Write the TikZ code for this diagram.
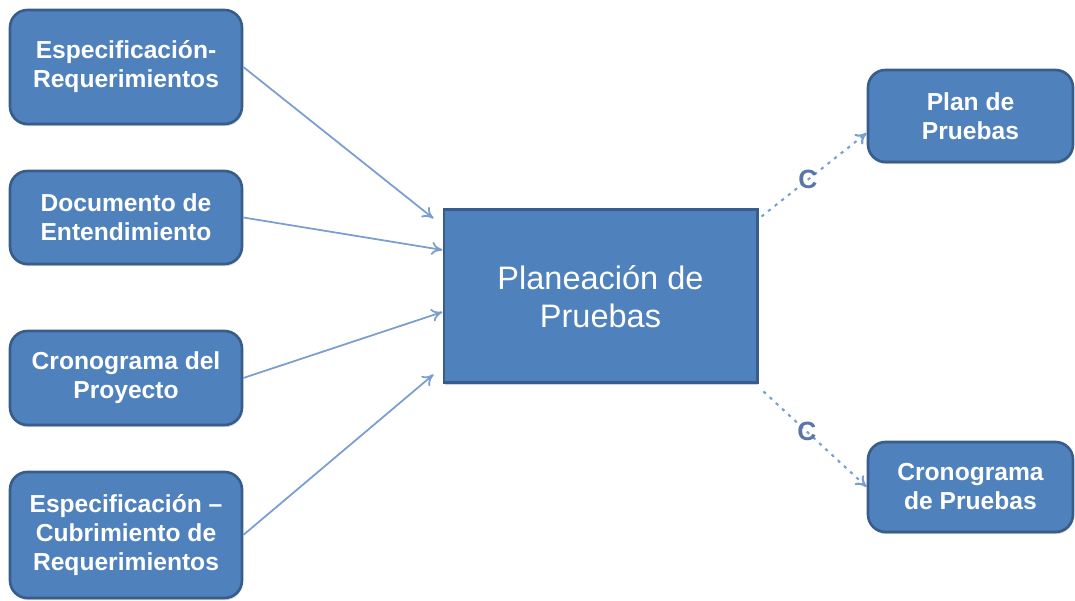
\documentclass[tikz,border=0pt]{standalone}
\usepackage{fontspec}
\setmainfont{Liberation Sans}
\usetikzlibrary{arrows.meta,shadows}
\definecolor{cajaazul}{RGB}{79,129,189}
\definecolor{bordeazul}{RGB}{56,93,138}
\definecolor{flechaazul}{RGB}{122,158,208}
\definecolor{letraC}{RGB}{88,118,168}
\begin{document}
\begin{tikzpicture}[>={To[length=2.2mm,width=2.6mm]}, line width=1pt,
	caja/.style={draw=bordeazul, fill=cajaazul, line width=1.5pt, rounded corners=3.5mm, text=white,
		align=center, minimum width=4.64cm, font=\bfseries\fontsize{14}{16.5}\selectfont,
		drop shadow={opacity=0.35, shadow xshift=0.4pt, shadow yshift=-1.2pt}},
	cajamayor/.style={draw=bordeazul, fill=cajaazul, line width=1.7pt, text=white, align=center,
		minimum width=6.26cm, minimum height=3.46cm, font=\fontsize{18.5}{21.5}\selectfont,
		drop shadow={opacity=0.35, shadow xshift=0.4pt, shadow yshift=-1.2pt}},
	entrada/.style={->, flechaazul, line width=1pt},
	salida/.style={->, flechaazul, line width=1.2pt, dash pattern=on 1.8pt off 3pt},
	etiq/.style={text=letraC, font=\bfseries\fontsize{15}{15}\selectfont, inner sep=1pt}]
		\useasboundingbox (0,0) rectangle (21.5,12.02);
		% entradas
		\node[caja, minimum height=2.28cm] (espreq) at (2.52,10.68) {Especificaci\'on-\\Requerimientos};
		\node[caja, minimum height=1.86cm] (docent) at (2.52,7.67) {Documento de\\Entendimiento};
		\node[caja, minimum height=1.88cm] (cronproy) at (2.52,4.46) {Cronograma del\\Proyecto};
		\node[caja, minimum height=2.52cm] (espcub) at (2.52,1.32) {Especificaci\'on --\\Cubrimiento de\\Requerimientos};
		% actividad
		\node[cajamayor] (planea) at (12.01,6.09) {Planeaci\'on de\\Pruebas};
		% salidas
		\node[caja, minimum width=4.1cm, minimum height=1.84cm] (planpru) at (19.41,9.70) {Plan de\\Pruebas};
		\node[caja, minimum width=4.1cm, minimum height=1.8cm] (cronpru) at (19.41,2.28) {Cronograma\\de Pruebas};
		\draw[entrada] (espreq.east) -- ([xshift=-0.18cm,yshift=-0.2cm]planea.north west);
		\draw[entrada] (docent.east) -- ([yshift=0.93cm]planea.west);
		\draw[entrada] (cronproy.east) -- ([yshift=-0.31cm]planea.west);
		\draw[entrada] (espcub.east) -- ([xshift=-0.18cm,yshift=0.2cm]planea.south west);
		\draw[salida] ([xshift=0.06cm,yshift=-0.16cm]planea.north east) -- node[pos=0.44, etiq]{C} ([yshift=-0.34cm]planpru.west);
		\draw[salida] ([xshift=0.1cm,yshift=-0.14cm]planea.south east) -- node[pos=0.42, etiq]{C} (cronpru.west);
\end{tikzpicture}
\end{document}
